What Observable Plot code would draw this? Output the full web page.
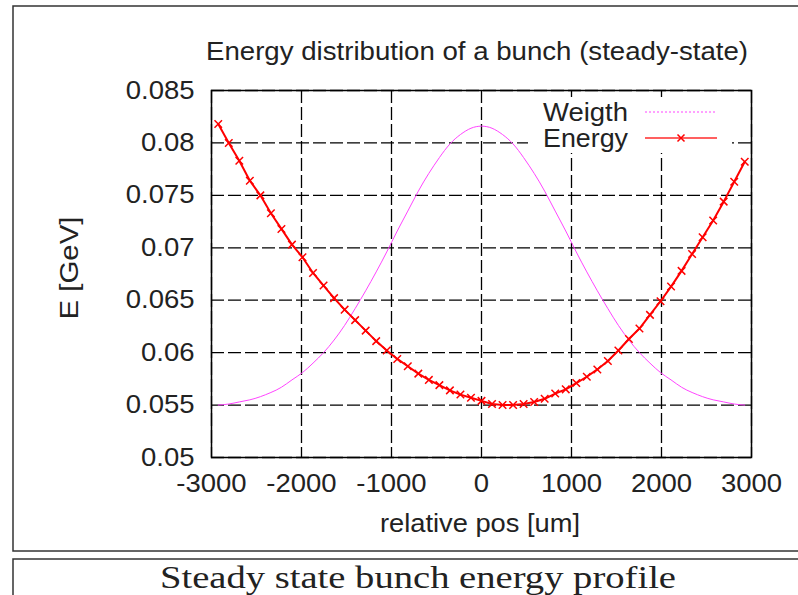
<!DOCTYPE html>
<html>
<head>
<meta charset="utf-8">
<script src="https://cdn.jsdelivr.net/npm/d3@7"></script>
<script src="https://cdn.jsdelivr.net/npm/@observablehq/plot@0.6"></script>
<style>
  body { margin: 0; background: #fff; }
  #page { position: relative; width: 798px; height: 595px; overflow: hidden; background: #fff; }
  #plot, #overlay { position: absolute; left: 0; top: 0; }
</style>
</head>
<body>
<div id="page">
  <div id="plot"></div>
  <svg id="overlay" width="798" height="595"></svg>
</div>
<script>
// ---- data ----
const titleText = "Energy distribution of a bunch (steady-state)";
const xLabelText = "relative pos [um]";
const yLabelText = "E [GeV]";
const captionText = "Steady state bunch energy profile";
const seriesNames = ["Weigth", "Energy"];

const xTicks = [-3000, -2000, -1000, 0, 1000, 2000, 3000];
const yTicks = [0.05, 0.055, 0.06, 0.065, 0.07, 0.075, 0.08, 0.085];

const pos = [
  -2925, -2808, -2691, -2574, -2457, -2340, -2223, -2106, -1989, -1872,
  -1755, -1638, -1521, -1404, -1287, -1170, -1053, -936, -819, -702,
  -585, -468, -351, -234, -117, 0, 117, 234, 351, 468,
  585, 702, 819, 936, 1053, 1170, 1287, 1404, 1521, 1638,
  1755, 1872, 1989, 2106, 2223, 2340, 2457, 2574, 2691, 2808, 2925
];

const weight = [
  0.0550, 0.0551, 0.0553, 0.0555, 0.0558, 0.0562, 0.0567, 0.0574, 0.0581, 0.0590,
  0.0600, 0.0612, 0.0626, 0.0642, 0.0659, 0.0677, 0.0696, 0.0716, 0.0735, 0.0754,
  0.0771, 0.0786, 0.0799, 0.0808, 0.0814, 0.0816, 0.0814, 0.0808, 0.0799, 0.0786,
  0.0771, 0.0754, 0.0735, 0.0716, 0.0696, 0.0677, 0.0659, 0.0642, 0.0626, 0.0612,
  0.0600, 0.0590, 0.0581, 0.0574, 0.0567, 0.0562, 0.0558, 0.0555, 0.0553, 0.0551, 0.0550
];

const energy = [
  0.0818, 0.0800, 0.0783, 0.0764, 0.0750, 0.0733, 0.0718, 0.0703, 0.0691, 0.0676,
  0.0664, 0.0652, 0.0641, 0.0631, 0.0621, 0.0611, 0.0602, 0.0594, 0.0587, 0.0580,
  0.0574, 0.0569, 0.0564, 0.0560, 0.0557, 0.0554, 0.0551, 0.0550, 0.0550, 0.0551,
  0.0553, 0.0556, 0.0561, 0.0565, 0.0571, 0.0577, 0.0584, 0.0592, 0.0602, 0.0613,
  0.0623, 0.0636, 0.0649, 0.0663, 0.0678, 0.0694, 0.0710, 0.0726, 0.0744, 0.0763, 0.0782
];

const weightRows = pos.map((x, i) => ({x, y: weight[i]}));
const energyRows = pos.map((x, i) => ({x, y: energy[i]}));

const FONT = "'Liberation Sans', Arial, Helvetica, sans-serif";
const STRETCH = 1.1; // reference sans text is slightly wider than Liberation Sans
const gridStyle = {stroke: "#000", strokeOpacity: 1, strokeWidth: 1.3, strokeDasharray: "13,4"};

const chart = Plot.plot({
  width: 798,
  height: 551,
  marginLeft: 211,
  marginRight: 47,
  marginTop: 90,
  marginBottom: 94,
  style: {fontFamily: FONT, fontSize: "25px", color: "#222", background: "transparent", overflow: "visible"},
  x: {domain: [-3000, 3000]},
  y: {domain: [0.05, 0.085]},
  marks: [
    Plot.gridX(xTicks, gridStyle),
    Plot.gridY(yTicks, gridStyle),
    Plot.axisX(xTicks, {tickSize: 0, tickPadding: 17, label: null, tickFormat: d => String(d)}),
    Plot.axisY(yTicks, {tickSize: 0, tickPadding: 17, label: null, tickFormat: d => String(+d.toFixed(3))}),
    Plot.line(weightRows, {x: "x", y: "y", stroke: "#ff44ff", strokeWidth: 1, curve: "natural"}),
    Plot.line(energyRows, {x: "x", y: "y", stroke: "#ff0000", strokeWidth: 2}),
    Plot.dot(energyRows, {x: "x", y: "y", symbol: "times", r: 3.5, stroke: "#ff0000", strokeWidth: 1.5}),
    Plot.frame({stroke: "#000", strokeWidth: 1.5})
  ]
});
document.getElementById("plot").appendChild(chart);

// widen tick labels slightly to match the reference face
d3.select(chart).selectAll("g[aria-label$='tick label'] text").each(function () {
  const len = this.getComputedTextLength();
  this.setAttribute("textLength", (len * STRETCH).toFixed(1));
  this.setAttribute("lengthAdjust", "spacingAndGlyphs");
});

// ---- overlay: frames, title, labels, legend, caption ----
const ov = d3.select("#overlay");
ov.append("rect").attr("x", 13).attr("y", 6).attr("width", 800).attr("height", 545)
  .attr("fill", "none").attr("stroke", "#333").attr("stroke-width", 1.5);
ov.append("rect").attr("x", 13).attr("y", 559).attr("width", 800).attr("height", 60)
  .attr("fill", "none").attr("stroke", "#333").attr("stroke-width", 1.5);

function sansText(parent, x, y, anchor, str, targetLen, transform) {
  const t = parent.append("text")
    .attr("text-anchor", anchor).attr("dominant-baseline", "central")
    .attr("font-family", FONT).attr("font-size", 25).attr("fill", "#222").text(str);
  if (transform) t.attr("transform", transform); else t.attr("x", x).attr("y", y);
  t.attr("textLength", targetLen).attr("lengthAdjust", "spacingAndGlyphs");
  return t;
}

sansText(ov, 477, 51, "middle", titleText, 542);
sansText(ov, 480, 523, "middle", xLabelText, 200);
sansText(ov, 0, 0, "middle", yLabelText, 103, "translate(69,268) rotate(-90)");

// legend
const lg = ov.append("g");
lg.append("rect").attr("x", 528).attr("y", 97).attr("width", 204).attr("height", 56).attr("fill", "#fff");
sansText(lg, 628, 112, "end", seriesNames[0], 85);
sansText(lg, 628, 138, "end", seriesNames[1], 85);
lg.append("line").attr("x1", 645).attr("x2", 717).attr("y1", 112).attr("y2", 112)
  .attr("stroke", "#ff44ff").attr("stroke-width", 1.2).attr("stroke-dasharray", "2,2");
lg.append("line").attr("x1", 645).attr("x2", 717).attr("y1", 138).attr("y2", 138)
  .attr("stroke", "#ff6060").attr("stroke-width", 2);
lg.append("path").attr("d", "M677.5,134.5L684.5,141.5M677.5,141.5L684.5,134.5")
  .attr("stroke", "#ff0000").attr("stroke-width", 1.5);

ov.append("text").attr("x", 418).attr("y", 588).attr("text-anchor", "middle")
  .attr("font-family", "'Liberation Serif', 'DejaVu Serif', serif").attr("font-size", 31)
  .attr("fill", "#222").attr("textLength", 516).attr("lengthAdjust", "spacingAndGlyphs")
  .text(captionText);
</script>
</body>
</html>
